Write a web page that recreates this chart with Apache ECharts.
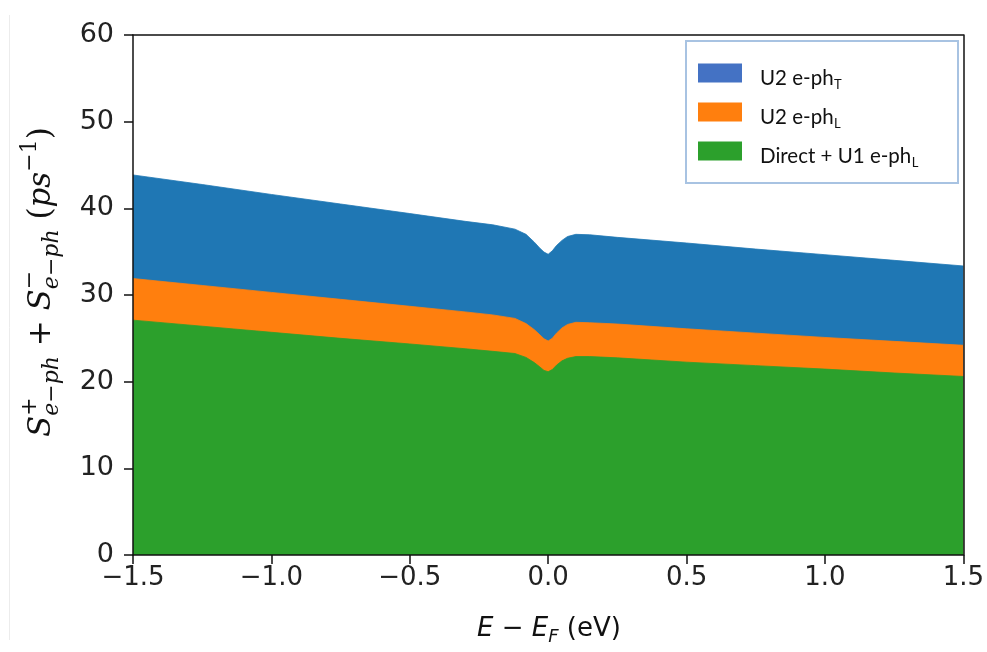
<!DOCTYPE html>
<html>
<head>
<meta charset="utf-8">
<script src="https://cdn.jsdelivr.net/npm/echarts@6/dist/echarts.min.js"></script>
<style>
  html, body { margin: 0; padding: 0; background: #fff; }
  #chart { width: 987px; height: 652px; }
</style>
</head>
<body>
<div id="chart"></div>
<script>
// ---- data ----
const energy = [-1.5, -1.25, -1.0, -0.75, -0.5, -0.3, -0.2, -0.12, -0.08, -0.05, -0.03, -0.015, 0, 0.015, 0.03, 0.05, 0.07, 0.1, 0.15, 0.25, 0.5, 0.75, 1.0, 1.25, 1.5];
// top of blue band (total)
const totalU2T = [43.85, 42.75, 41.6, 40.5, 39.4, 38.5, 38.1, 37.6, 37.0, 36.1, 35.4, 34.95, 34.7, 35.1, 35.7, 36.3, 36.75, 37.0, 36.95, 36.65, 36.0, 35.3, 34.65, 34.0, 33.35];
// top of orange band
const totalU2L = [31.9, 31.1, 30.3, 29.5, 28.7, 28.05, 27.7, 27.3, 26.7, 26.0, 25.4, 24.95, 24.7, 25.0, 25.6, 26.2, 26.6, 26.85, 26.8, 26.65, 26.1, 25.6, 25.1, 24.65, 24.2];
// top of green band
const directU1 = [27.1, 26.4, 25.7, 25.0, 24.35, 23.8, 23.5, 23.25, 22.8, 22.2, 21.7, 21.3, 21.15, 21.4, 21.9, 22.4, 22.7, 22.9, 22.9, 22.75, 22.25, 21.85, 21.45, 21.0, 20.6];
const xTicks = [-1.5, -1.0, -0.5, 0.0, 0.5, 1.0, 1.5];
const yTicks = [0, 10, 20, 30, 40, 50, 60];
const legendNames = ['U2 e-ph', 'U2 e-ph', 'Direct + U1 e-ph'];
const legendSubs = ['T', 'L', 'L'];

// ---- styling ----
const seriesColors = ['#1f77b4', '#ff7f0e', '#2ca02c'];
const legendColors = ['#4472c4', '#ff7f0e', '#2ca02c'];

const cvs = document.createElement('canvas');
const ctx = cvs.getContext('2d');
function measure(text, font) { ctx.font = font; return ctx.measureText(text).width; }

// lay out text pieces along a baseline; returns elements + total width
function layout(pieces) {
  let x = 0; const els = [];
  function add(p, xx) {
    const font = (p.italic ? 'italic ' : '') + p.fs + 'px ' + p.family;
    els.push({
      type: 'text', x: xx, y: (p.dy || 0) - 0.32 * p.fs,
      style: { text: p.t, font: font, fill: '#111', align: 'left', verticalAlign: 'middle', textAlign: 'left', textVerticalAlign: 'middle' }
    });
    return measure(p.t, font);
  }
  pieces.forEach(p => {
    if (p.pair) {
      const w1 = add(p.pair[0], x);
      const w2 = add(p.pair[1], x);
      x += Math.max(w1, w2);
    } else {
      x += add(p, x);
    }
  });
  return { els, width: x };
}

const serif = '"DejaVu Serif"';
const sans = '"DejaVu Sans"';
const mfs = 31, sfs = 22;
const yName = layout([
  { t: 'S', fs: mfs, italic: true, family: serif },
  { pair: [{ t: '+', fs: sfs, family: serif, dy: -15 }, { t: 'e\u2212ph', fs: sfs, italic: true, family: serif, dy: 7 }] },
  { t: ' + ', fs: mfs, family: serif },
  { t: 'S', fs: mfs, italic: true, family: serif },
  { pair: [{ t: '\u2212', fs: sfs, family: serif, dy: -15 }, { t: 'e\u2212ph', fs: sfs, italic: true, family: serif, dy: 7 }] },
  { t: ' (', fs: mfs, family: serif },
  { t: 'ps', fs: mfs, italic: true, family: serif },
  { t: '\u22121', fs: sfs, family: serif, dy: -15 },
  { t: ')', fs: mfs, family: serif }
]);
const xName = layout([
  { t: 'E', fs: 26, italic: true, family: sans },
  { t: ' \u2212 ', fs: 26, family: sans },
  { t: 'E', fs: 26, italic: true, family: sans },
  { t: 'F', fs: 18, italic: true, family: sans, dy: 5 },
  { t: ' (eV)', fs: 26, family: sans }
]);

const plotLeft = 133, plotRight = 965, plotTop = 35, plotBottom = 555;

const legendEls = [
  { type: 'rect', shape: { x: 686, y: 41, width: 272, height: 142 }, style: { fill: '#fff', stroke: '#a8c3e2', lineWidth: 2 }, z: 10 }
];
legendNames.forEach((nm, i) => {
  const cy = 73 + i * 39;
  legendEls.push({ type: 'rect', shape: { x: 698, y: cy - 9.5, width: 44, height: 19 }, style: { fill: legendColors[i] }, z: 11 });
  const f = '20.5px Lato';
  const w = measure(nm, f);
  legendEls.push({ type: 'text', x: 760, y: cy + 5, style: { text: nm, font: f, fill: '#111', verticalAlign: 'middle', textVerticalAlign: 'middle' }, z: 11 });
  legendEls.push({ type: 'text', x: 760 + w + 0.5, y: cy + 12, style: { text: legendSubs[i], font: '13px Lato', fill: '#111', verticalAlign: 'middle', textVerticalAlign: 'middle' }, z: 11 });
});

const chart = echarts.init(document.getElementById('chart'), null, { renderer: 'canvas' });
const fmtTick = v => (v < 0 ? '\u2212' : '') + Math.abs(v).toFixed(1);

const option = {
  backgroundColor: '#fff',
  animation: false,
  grid: { left: plotLeft, right: 987 - plotRight, top: plotTop, bottom: 652 - plotBottom, containLabel: false },
  xAxis: [{
    type: 'value', min: xTicks[0], max: xTicks[xTicks.length - 1], interval: 0.5, z: 5,
    axisLine: { show: true, onZero: false, lineStyle: { color: '#111', width: 1.5 } },
    axisTick: { show: true, inside: false, length: 9, lineStyle: { color: '#111', width: 1.5 } },
    axisLabel: { formatter: fmtTick, fontFamily: sans, fontSize: 26, color: '#222', margin: 10 },
    splitLine: { show: false }
  }, {
    type: 'value', position: 'top', min: xTicks[0], max: xTicks[xTicks.length - 1], z: 5,
    axisLine: { show: true, onZero: false, lineStyle: { color: '#111', width: 1.5 } },
    axisTick: { show: false }, axisLabel: { show: false }, splitLine: { show: false }
  }],
  yAxis: [{
    type: 'value', min: yTicks[0], max: yTicks[yTicks.length - 1], interval: 10, z: 5,
    axisLine: { show: true, onZero: false, lineStyle: { color: '#111', width: 1.5 } },
    axisTick: { show: true, inside: false, length: 9, lineStyle: { color: '#111', width: 1.5 } },
    axisLabel: { fontFamily: sans, fontSize: 27, color: '#222', margin: 19 },
    splitLine: { show: false }
  }, {
    type: 'value', position: 'right', min: yTicks[0], max: yTicks[yTicks.length - 1], z: 5,
    axisLine: { show: true, onZero: false, lineStyle: { color: '#111', width: 1.5 } },
    axisTick: { show: false }, axisLabel: { show: false }, splitLine: { show: false }
  }],
  series: [
    { name: 'U2 e-ph_T', data: totalU2T, z: 2 },
    { name: 'U2 e-ph_L', data: totalU2L, z: 3 },
    { name: 'Direct + U1 e-ph_L', data: directU1, z: 4 }
  ].map((s, i) => ({
    type: 'line', name: s.name, z: s.z,
    data: energy.map((e, k) => [e, s.data[k]]),
    showSymbol: false, smooth: false,
    lineStyle: { width: 0.8, color: seriesColors[i] },
    itemStyle: { color: seriesColors[i] },
    areaStyle: { color: seriesColors[i], opacity: 1 }
  })),
  graphic: [
    { type: 'group', x: 52, y: 437, rotation: Math.PI / 2, children: yName.els },
    { type: 'group', x: (plotLeft + plotRight) / 2 - xName.width / 2, y: 638, children: xName.els },
    { type: 'line', shape: { x1: 9.5, y1: 15, x2: 9.5, y2: 640 }, style: { stroke: '#ececec', lineWidth: 1 } },
    ...legendEls
  ]
};
chart.setOption(option);
</script>
</body>
</html>
